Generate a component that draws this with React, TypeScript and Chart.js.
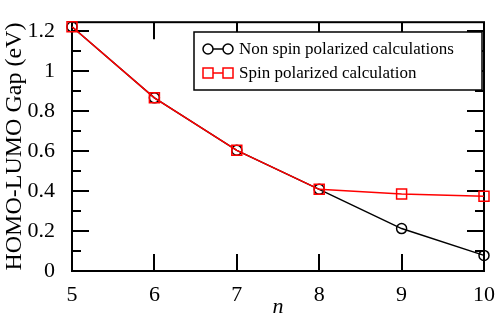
import React, { useEffect, useRef } from "react";
import { Chart, registerables } from "chart.js";

Chart.register(...registerables);

const nValues = [5, 6, 7, 8, 9, 10];
const nonSpinGap = [1.22, 0.865, 0.603, 0.408, 0.212, 0.078];
const spinGap = [1.22, 0.865, 0.603, 0.408, 0.385, 0.373];
const nonSpinLabel = "Non spin polarized calculations";
const spinLabel = "Spin polarized calculation";
const yTitle = "HOMO-LUMO Gap (eV)";
const xTitle = "n";

const SERIF = "'Liberation Serif', 'Times New Roman', serif";

const framePlugin = {
  id: "frameTicks",
  beforeDatasetsDraw(chart: any) {
    const { ctx, chartArea, scales } = chart;
    const { left, right, top, bottom } = chartArea;
    const x = scales.x;
    const y = scales.y;
    ctx.save();
    ctx.strokeStyle = "#000";
    ctx.lineWidth = 2;
    ctx.strokeRect(left, top, right - left, bottom - top);
    ctx.lineWidth = 2;
    ctx.beginPath();
    for (let v = 0; v <= 1.2001; v += 0.1) {
      const major = Math.abs(Math.round(v * 10) % 2) === 0;
      const len = major ? 17 : 9;
      const py = Math.round(y.getPixelForValue(v));
      ctx.moveTo(left, py);
      ctx.lineTo(left + len, py);
      ctx.moveTo(right, py);
      ctx.lineTo(right - len, py);
    }
    for (let v = 5; v <= 10; v += 1) {
      const px = Math.round(x.getPixelForValue(v));
      ctx.moveTo(px, bottom);
      ctx.lineTo(px, bottom - 17);
      ctx.moveTo(px, top);
      ctx.lineTo(px, top + 17);
    }
    ctx.stroke();
    ctx.restore();
  },
  afterDraw(chart: any) {
    const { ctx } = chart;
    ctx.save();
    const bx = 194, by = 32, bw = 288, bh = 58;
    ctx.fillStyle = "#fff";
    ctx.fillRect(bx, by, bw, bh);
    ctx.strokeStyle = "#000";
    ctx.lineWidth = 1.5;
    ctx.strokeRect(bx, by, bw, bh);
    const rows = [
      { label: nonSpinLabel, color: "#000", shape: "circle", y: 49 },
      { label: spinLabel, color: "#ff0000", shape: "square", y: 73 },
    ];
    const x1 = 208, x2 = 228;
    for (const r of rows) {
      ctx.strokeStyle = r.color;
      ctx.lineWidth = 1.5;
      ctx.beginPath();
      ctx.moveTo(x1, r.y);
      ctx.lineTo(x2, r.y);
      ctx.stroke();
      for (const px of [x1, x2]) {
        ctx.beginPath();
        if (r.shape === "circle") ctx.arc(px, r.y, 5, 0, Math.PI * 2);
        else ctx.rect(px - 5, r.y - 5, 10, 10);
        ctx.fillStyle = "#fff";
        ctx.fill();
        ctx.stroke();
      }
      ctx.fillStyle = "#000";
      ctx.font = `17px ${SERIF}`;
      ctx.textAlign = "left";
      ctx.textBaseline = "middle";
      ctx.fillText(r.label, 239, r.y + 1);
    }
    ctx.restore();
  },
};

export default function App() {
  const ref = useRef<HTMLCanvasElement>(null);
  useEffect(() => {
    document.body.style.margin = "0";
    const chart = new Chart(ref.current!, {
      type: "line",
      data: {
        labels: nValues,
        datasets: [
          {
            label: spinLabel,
            data: nValues.map((n, i) => ({ x: n, y: spinGap[i] })),
            borderColor: "#ff0000",
            backgroundColor: "rgba(0,0,0,0)",
            borderWidth: 1.5,
            pointStyle: "rect",
            pointRadius: 7.07,
            pointBorderWidth: 1.5,
            pointBorderColor: "#ff0000",
            pointBackgroundColor: "rgba(0,0,0,0)",
            tension: 0,
            clip: false,
            order: 0,
          },
          {
            label: nonSpinLabel,
            data: nValues.map((n, i) => ({ x: n, y: nonSpinGap[i] })),
            borderColor: "#000",
            backgroundColor: "rgba(0,0,0,0)",
            borderWidth: 1.5,
            pointStyle: "circle",
            pointRadius: 5,
            pointBorderWidth: 1.5,
            pointBorderColor: "#000",
            pointBackgroundColor: "rgba(0,0,0,0)",
            tension: 0,
            clip: false,
            order: 1,
          },
        ],
      },
      options: {
        animation: false,
        responsive: false,
        devicePixelRatio: 1,
        layout: { padding: { top: 3, right: 13, left: 0, bottom: 0 } },
        plugins: { legend: { display: false }, tooltip: { enabled: false } },
        scales: {
          x: {
            type: "linear",
            min: 5,
            max: 10,
            grid: { display: false },
            border: { display: false },
            ticks: {
              stepSize: 1,
              color: "#000",
              font: { family: SERIF, size: 22 },
              padding: 3,
            },
            title: {
              display: true,
              text: xTitle,
              color: "#000",
              font: { family: SERIF, size: 22, style: "italic" },
              padding: 0,
            },
            afterFit: (s: any) => {
              s.height = 49;
            },
          },
          y: {
            type: "linear",
            min: 0,
            max: 1.243,
            grid: { display: false },
            border: { display: false },
            ticks: {
              stepSize: 0.2,
              includeBounds: false,
              color: "#000",
              font: { family: SERIF, size: 22 },
              padding: 9,
              callback: (v: any) => {
                const r = Math.round(Number(v) * 10) / 10;
                return String(r);
              },
            },
            title: {
              display: true,
              text: yTitle,
              color: "#000",
              font: { family: SERIF, size: 24 },
              padding: 0,
            },
            afterFit: (s: any) => {
              s.width = 72;
            },
          },
        },
      },
      plugins: [framePlugin],
    });
    return () => chart.destroy();
  }, []);
  return (
    <div style={{ position: "fixed", left: 0, top: 0, width: 498, height: 320 }}>
      <canvas ref={ref} width={498} height={320} style={{ width: 498, height: 320 }} />
    </div>
  );
}
